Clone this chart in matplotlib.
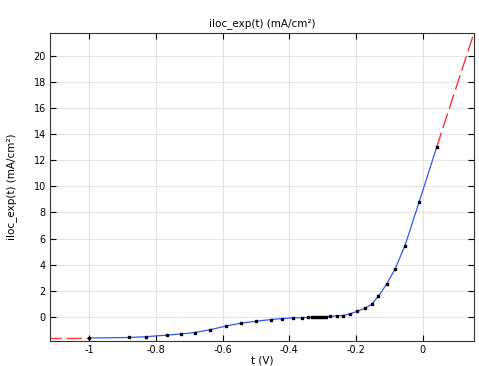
import matplotlib
matplotlib.use('Agg')
import matplotlib.pyplot as plt

# 数据点
v = [-1.0, -0.88, -0.83, -0.767, -0.726, -0.683, -0.638, -0.591, -0.546, -0.501,
     -0.456, -0.421, -0.390, -0.363, -0.345, -0.333, -0.327, -0.321, -0.315,
     -0.309, -0.303, -0.297, -0.291, -0.277, -0.258, -0.240, -0.219, -0.198,
     -0.174, -0.153, -0.133, -0.108, -0.083, -0.053, -0.011, 0.042]
i = [-1.61, -1.57, -1.51, -1.39, -1.30, -1.19, -0.98, -0.70, -0.48, -0.33,
     -0.20, -0.12, -0.08, -0.05, -0.03, -0.02, -0.02, -0.01, -0.01,
     0.0, 0.0, 0.01, 0.02, 0.04, 0.09, 0.11, 0.23, 0.42, 0.65, 0.98,
     1.58, 2.52, 3.66, 5.47, 8.77, 13.0]

# 外推部分
ext_left_v = [-1.13, -1.0]
ext_left_i = [-1.61, -1.61]
ext_right_v = [0.042, 0.156]
ext_right_i = [13.0, 21.9]

x_ticks = [-1, -0.8, -0.6, -0.4, -0.2, 0]
y_ticks = [0, 2, 4, 6, 8, 10, 12, 14, 16, 18, 20]

fig = plt.figure(figsize=(4.79, 3.66), dpi=100)
ax = fig.add_axes([50 / 479, 1 - 341 / 366, 424 / 479, 308 / 366])

ax.plot(ext_left_v, ext_left_i, color='#ff3333', lw=1.0, dashes=(11, 3.5))
ax.plot(ext_right_v, ext_right_i, color='#ff3333', lw=1.0, dashes=(11, 3.5))
ax.plot(v, i, color='#3355ff', lw=0.9)
ax.plot(v, i, ls='none', marker='s', ms=1.8, color='black')

ax.set_xlim(-1.118, 0.154)
ax.set_ylim(-1.84, 21.74)
ax.set_xticks(x_ticks)
ax.set_xticklabels([f'{t:g}' for t in x_ticks])
ax.set_yticks(y_ticks)
ax.set_yticklabels([f'{t:g}' for t in y_ticks])
ax.tick_params(direction='in', top=True, right=True, labelsize=7, length=4, pad=3)
ax.grid(color='#e4e4e4', lw=0.8)
ax.set_axisbelow(True)
for s in ax.spines.values():
    s.set_color('#333333')

ax.set_title('iloc_exp(t) (mA/cm²)', fontsize=7.5, pad=5)
ax.set_xlabel('t (V)', fontsize=7.5, labelpad=0)
ax.set_ylabel('iloc_exp(t) (mA/cm²)', fontsize=7.5, labelpad=12)

fig.savefig('out.png', dpi=100)
